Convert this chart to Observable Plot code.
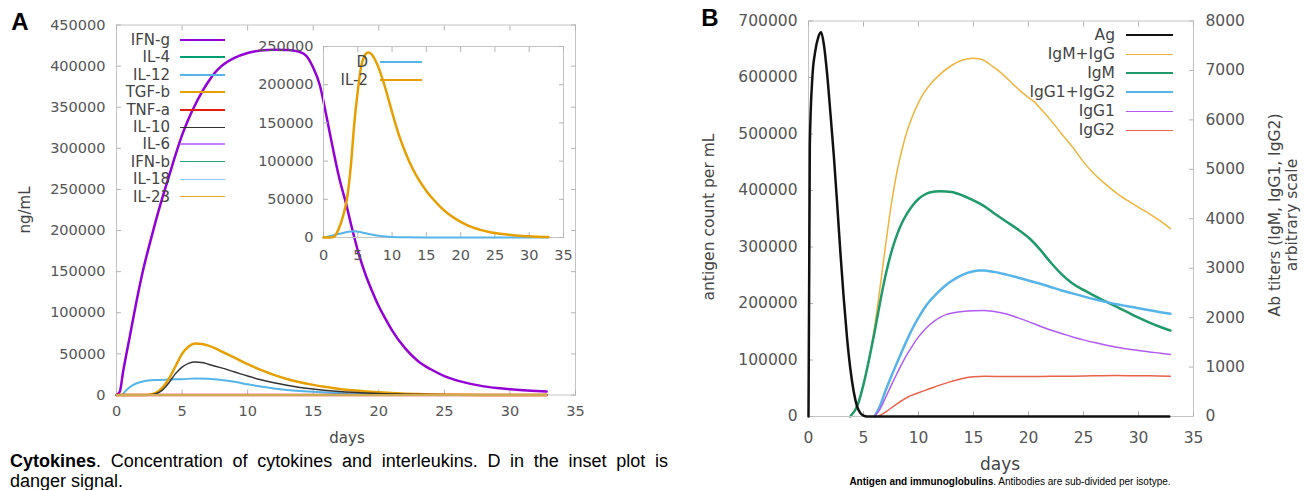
<!DOCTYPE html>
<html><head><meta charset="utf-8">
<script src="https://cdn.jsdelivr.net/npm/d3@7"></script>
<script src="https://cdn.jsdelivr.net/npm/@observablehq/plot@0.6"></script>
<style>
body{margin:0;background:#fff;}
#root{position:relative;width:1309px;height:490px;overflow:hidden;background:#fff;font-family:"DejaVu Sans",sans-serif;}
.pl{position:absolute;}
.pl svg{overflow:visible;}
.lg{position:absolute;display:flex;align-items:center;white-space:nowrap;color:#444;}
.lg .t{display:inline-block;text-align:right;}
.lg .s{display:inline-block;height:0;}
.ttl{position:absolute;color:#444;white-space:nowrap;}
.rot{transform:translate(-50%,-50%) rotate(-90deg);text-align:center;}
.ctr{transform:translate(-50%,-50%);}
</style></head><body><div id="root"></div><script>
// ---------- Panel A: cytokines (ng/mL) ----------
const IFN_g = [[0,0],[0.25,4000],[0.5,28000],[1,70000],[1.5,112000],[2,150000],[2.5,182000],[3,212000],[3.5,240000],[4,266000],[4.5,292000],[5,316000],[5.5,336000],[6,353000],[6.5,368000],[7,381000],[7.5,392000],[8,400000],[9,410000],[10,416000],[11,419000],[12,420000],[13,419500],[14,417000],[14.5,412000],[15,398000],[15.5,377000],[16,340000],[16.5,300000],[17,263000],[17.5,233000],[18,200000],[18.5,170000],[19,146000],[19.5,126000],[20,108000],[20.5,93000],[21,79000],[22,57000],[23,41000],[24,31000],[25,23000],[26,17500],[27,13500],[28,10500],[29,8500],[30,7000],[31,5800],[32,4900],[32.8,4300]];
const IL_4 = [[0,0],[32.8,0]];
const IL_12 = [[0,0],[0.4,0],[0.7,5000],[1,9500],[1.5,14000],[2,16500],[3,18300],[4,18800],[5,19300],[6,20000],[7,19700],[8,18300],[9,16000],[10,13000],[11,10300],[12,8000],[13,6200],[14,4900],[15,3900],[16,3000],[17,2300],[18,1700],[19,1200],[20,850],[22,400],[25,150],[28,50],[32.8,0]];
const TGF_b = [[0,0],[2,0],[2.5,300],[3,2500],[3.5,9000],[4,20000],[4.5,35000],[5,50000],[5.5,59000],[6,62500],[6.5,62000],[7,60000],[7.5,57000],[8,53000],[9,45500],[10,37500],[11,30500],[12,24500],[13,19500],[14,15500],[15,12300],[16,9600],[17,7400],[18,5700],[19,4300],[20,3200],[21,2300],[22,1600],[23,1100],[24,700],[26,300],[28,100],[32.8,0]];
const TNF_a = [[0,0],[32.8,0]];
const IL_10 = [[0,0],[2.5,0],[3,1500],[3.5,6000],[4,15000],[4.5,26000],[5,34000],[5.5,38500],[6,40000],[6.5,39500],[7,37500],[8,33000],[9,28000],[10,23000],[11,18500],[12,14800],[13,11800],[14,9200],[15,7200],[16,5600],[17,4300],[18,3300],[19,2500],[20,1800],[22,900],[25,300],[28,80],[32.8,0]];
const IL_6 = [[0,0],[32.8,0]];
const IFN_b = [[0,0],[32.8,0]];
const IL_18 = [[0,0],[32.8,0]];
const IL_23 = [[0,0],[32.8,0]];
// inset
const D_signal = [[0,0],[1,2000],[2,4300],[3,6300],[4,7800],[4.5,8100],[5,7600],[6,5800],[7,3800],[8,2300],[9,1400],[10,800],[12,300],[15,100],[20,0],[32.8,0]];
const IL_2 = [[0,0],[1,0],[1.5,800],[2,7000],[2.5,18000],[3,33000],[3.5,55000],[4,95000],[4.5,150000],[5,192000],[5.5,224000],[6,238000],[6.5,242000],[7,240000],[7.5,233000],[8,223000],[9,196000],[10,164000],[11,134000],[12,110000],[13,90000],[14,74000],[15,61000],[16,50000],[17,40500],[18,32500],[19,26000],[20,20500],[21,16000],[22,12500],[23,9700],[24,7500],[25,5800],[26,4500],[27,3500],[28,2700],[29,2000],[30,1500],[31,1100],[32,800],[32.8,600]];
// ---------- Panel B: antigen and immunoglobulins ----------
const Ag = [[0,0],[0.12,480000],[0.35,600000],[0.6,645000],[0.9,672000],[1.15,680000],[1.4,658000],[1.7,605000],[2.0,535000],[2.3,462000],[2.6,378000],[2.9,290000],[3.2,210000],[3.5,140000],[3.8,85000],[4.1,45000],[4.4,19000],[4.7,6500],[5.0,1500],[5.3,0],[32.8,0]];
const IgM_IgG = [[3.8,0],[4.5,250],[5,650],[5.5,1150],[6,1800],[6.5,2600],[7,3450],[7.5,4250],[8,4900],[8.5,5400],[9,5800],[9.5,6100],[10,6350],[10.5,6550],[11,6700],[12,6930],[13,7100],[14,7210],[15,7245],[15.5,7235],[16,7200],[16.5,7120],[17,7040],[17.5,6950],[18,6850],[18.5,6740],[19,6640],[19.5,6540],[20,6450],[20.5,6370],[21,6250],[22,6000],[23,5720],[24,5450],[25,5150],[26,4900],[27,4700],[28,4520],[29,4370],[30,4230],[31,4100],[32,3950],[32.9,3800]];
const IgM = [[3.8,0],[4.5,250],[5,650],[5.5,1150],[6,1700],[6.5,2300],[7,2850],[7.5,3300],[8,3650],[8.5,3920],[9,4120],[9.5,4280],[10,4400],[10.5,4480],[11,4530],[12,4555],[13,4540],[14,4470],[15,4370],[16,4250],[17,4090],[18,3940],[19,3790],[20,3620],[21,3390],[22,3120],[23,2880],[24,2690],[25,2560],[26,2440],[27,2330],[28,2220],[29,2110],[30,2000],[31,1900],[32,1810],[32.9,1740]];
const IgG1_IgG2 = [[6,0],[6.5,220],[7,520],[7.5,800],[8,1060],[8.5,1320],[9,1570],[9.5,1800],[10,2000],[10.5,2180],[11,2330],[11.5,2450],[12,2560],[12.5,2660],[13,2740],[13.5,2810],[14,2865],[14.5,2910],[15,2940],[15.5,2955],[16,2955],[16.5,2940],[17,2920],[17.5,2895],[18,2870],[19,2810],[20,2750],[21,2690],[22,2620],[23,2550],[24,2490],[25,2430],[26,2370],[27,2320],[28,2270],[29,2230],[30,2190],[31,2150],[32,2110],[32.9,2077]];
const IgG1 = [[6,0],[6.5,150],[7,380],[7.5,620],[8,850],[8.5,1070],[9,1270],[9.5,1450],[10,1610],[10.5,1740],[11,1850],[11.5,1940],[12,2010],[12.5,2060],[13,2090],[14,2125],[15,2140],[16,2143],[16.5,2135],[17,2120],[17.5,2100],[18,2075],[19,2000],[20,1920],[21,1830],[22,1750],[23,1680],[24,1610],[25,1550],[26,1495],[27,1445],[28,1400],[29,1365],[30,1335],[31,1305],[32,1280],[32.9,1254]];
const IgG2 = [[6.3,0],[7,90],[8,250],[9,390],[10,480],[11,560],[12,640],[13,710],[14,770],[15,805],[16,812],[18,810],[20,808],[22,812],[24,816],[26,822],[28,828],[30,822],[31,826],[32.9,815]];

// tick values
const dayTicks = [0,5,10,15,20,25,30,35];
const cytoTicks = [0,50000,100000,150000,200000,250000,300000,350000,400000,450000];
const insetTicks = [0,50000,100000,150000,200000,250000];
const agTicks = [0,100000,200000,300000,400000,500000,600000,700000];
const abTicks = [0,1000,2000,3000,4000,5000,6000,7000,8000];

// series styling
const seriesA = [
  {name:"IFN-g", data:IFN_g, color:"#9400d3", w:2.5},
  {name:"IL-4", data:IL_4, color:"#009e73", w:2},
  {name:"IL-12", data:IL_12, color:"#56b4e9", w:2},
  {name:"TGF-b", data:TGF_b, color:"#e69f00", w:2.5},
  {name:"TNF-a", data:TNF_a, color:"#e51e10", w:2.5},
  {name:"IL-10", data:IL_10, color:"#333333", w:1.5},
  {name:"IL-6", data:IL_6, color:"#c77dff", w:2},
  {name:"IFN-b", data:IFN_b, color:"#2aa37a", w:1.3},
  {name:"IL-18", data:IL_18, color:"#8ccaf0", w:1.3},
  {name:"IL-23", data:IL_23, color:"#e8a825", w:1.5}
];
const seriesInset = [
  {name:"D", data:D_signal, color:"#56b4e9", w:2},
  {name:"IL-2", data:IL_2, color:"#e69f00", w:2.5}
];
const seriesAg = [{name:"Ag", data:Ag, color:"#111111", w:2.5}];
const seriesAb = [
  {name:"IgM+IgG", data:IgM_IgG, color:"#efb43c", w:1.5},
  {name:"IgM", data:IgM, color:"#1f9a6a", w:2.5},
  {name:"IgG1+IgG2", data:IgG1_IgG2, color:"#56b4e9", w:2.5},
  {name:"IgG1", data:IgG1, color:"#b05cf0", w:1.5},
  {name:"IgG2", data:IgG2, color:"#e8624e", w:1.5}
];

const root = document.getElementById("root");
const tickStroke = "#b4b4b4";
const frameStroke = "#c4c4c4";
const fmt = d => String(d);

function lines(series){
  return series.map(s => Plot.line(s.data, {x: d => d[0], y: d => d[1], stroke: s.color, strokeWidth: s.w, curve: "monotone-x"}));
}
function tickMarks(xt, yt, sides){
  const m = [];
  if (sides.includes("b")) m.push(Plot.axisX(xt, {anchor:"bottom", tickSize:-5, fill:"none", stroke:tickStroke, label:null}));
  if (sides.includes("t")) m.push(Plot.axisX(xt, {anchor:"top", tickSize:-5, fill:"none", stroke:tickStroke, label:null}));
  if (sides.includes("l")) m.push(Plot.axisY(yt, {anchor:"left", tickSize:-5, fill:"none", stroke:tickStroke, label:null}));
  if (sides.includes("r")) m.push(Plot.axisY(yt, {anchor:"right", tickSize:-5, fill:"none", stroke:tickStroke, label:null}));
  return m;
}
function place(el, left, top){
  const w = document.createElement("div");
  w.className = "pl"; w.style.left = left + "px"; w.style.top = top + "px";
  w.appendChild(el); root.appendChild(w);
}
function legend(series, {right, lineGap, lineLen, y0, step, fontSize}){
  series.forEach((s, i) => {
    const d = document.createElement("div");
    d.className = "lg";
    d.style.left = (right - 140) + "px";
    d.style.top = (y0 + i*step - 10) + "px";
    d.style.height = "20px";
    d.style.fontSize = fontSize + "px";
    const t = document.createElement("span"); t.className = "t"; t.style.width = "140px"; t.textContent = s.name;
    const l = document.createElement("span"); l.className = "s"; l.style.width = lineLen + "px"; l.style.marginLeft = lineGap + "px";
    l.style.borderTop = s.w + "px solid " + s.color;
    d.appendChild(t); d.appendChild(l); root.appendChild(d);
  });
}
function text(str, cls, x, y, size, extra){
  const d = document.createElement("div");
  d.className = "ttl " + cls;
  d.style.left = x + "px"; d.style.top = y + "px"; d.style.fontSize = size + "px";
  d.innerHTML = str;
  if (extra) Object.assign(d.style, extra);
  root.appendChild(d);
}
const baseStyle = size => ({fontFamily:"DejaVu Sans", fontSize: size + "px", background:"transparent", overflow:"visible"});

// Panel A main
place(Plot.plot({
  width:600, height:430, marginLeft:116, marginRight:25, marginTop:24.5, marginBottom:35.5,
  x:{domain:[0,35]}, y:{domain:[0,450000]},
  style: baseStyle(14.5),
  marks:[
    Plot.frame({stroke:frameStroke}),
    ...tickMarks(dayTicks, cytoTicks, "btlr"),
    Plot.axisX(dayTicks, {anchor:"bottom", tickSize:0, tickPadding:11, fill:"#555", tickFormat:fmt, label:null}),
    Plot.axisY(cytoTicks, {anchor:"left", tickSize:0, tickPadding:11, fill:"#555", tickFormat:fmt, label:null}),
    ...lines(seriesA)
  ]
}), 0, 0);

// Panel A inset
place(Plot.plot({
  width:340, height:250, marginLeft:83, marginRight:17, marginTop:26, marginBottom:33,
  x:{domain:[0,35]}, y:{domain:[0,250000]},
  style: baseStyle(14.5),
  marks:[
    Plot.frame({stroke:frameStroke}),
    ...tickMarks(dayTicks, insetTicks, "btlr"),
    Plot.axisX(dayTicks, {anchor:"bottom", tickSize:0, tickPadding:12, fill:"#555", tickFormat:fmt, label:null}),
    Plot.axisY(insetTicks, {anchor:"left", tickSize:0, tickPadding:10, fill:"#555", tickFormat:fmt, label:null}),
    ...lines(seriesInset)
  ]
}), 240, 20);

// Panel B right axis (Ab titers) - drawn beneath
place(Plot.plot({
  width:629, height:450, marginLeft:128, marginRight:116, marginTop:20.5, marginBottom:34,
  x:{domain:[0,35], axis:null}, y:{domain:[0,8000]},
  style: baseStyle(15.5),
  marks:[
    ...tickMarks(dayTicks, abTicks, "r"),
    Plot.axisY(abTicks, {anchor:"right", tickSize:0, tickPadding:12, fill:"#555", tickFormat:fmt, label:null}),
    ...lines(seriesAb)
  ]
}), 680, 0);

// Panel B left axis (antigen)
place(Plot.plot({
  width:629, height:450, marginLeft:128, marginRight:116, marginTop:20.5, marginBottom:34,
  x:{domain:[0,35]}, y:{domain:[0,700000]},
  style: baseStyle(15.5),
  marks:[
    Plot.frame({stroke:frameStroke}),
    ...tickMarks(dayTicks, agTicks, "btl"),
    Plot.axisX(dayTicks, {anchor:"bottom", tickSize:0, tickPadding:15, fill:"#555", tickFormat:fmt, label:null}),
    Plot.axisY(agTicks, {anchor:"left", tickSize:0, tickPadding:11, fill:"#555", tickFormat:fmt, label:null}),
    ...lines(seriesAg)
  ]
}), 680, 0);

// legends
legend(seriesA, {right:170, lineGap:10, lineLen:45, y0:40, step:17.4, fontSize:15});
legend(seriesInset, {right:368, lineGap:12, lineLen:42, y0:62, step:18, fontSize:15});
legend(seriesAg.concat(seriesAb), {right:1115, lineGap:11, lineLen:47, y0:35, step:19, fontSize:15.5});

// axis titles
text("ng/mL", "rot", 25, 210, 15);
text("days", "ctr", 347, 438, 15);
text("antigen count per mL", "rot", 709, 217, 15.5);
text("days", "ctr", 1000, 464, 17);
text("Ab titers (IgM, IgG1, IgG2)<br>arbitrary scale", "rot", 1284, 215, 15.5, {lineHeight:"17px"});

// panel letters
text("A", "ctr", 20, 22, 24, {fontFamily:"Liberation Sans, Arial, sans-serif", fontWeight:"bold", color:"#000"});
text("B", "ctr", 710, 18, 24, {fontFamily:"Liberation Sans, Arial, sans-serif", fontWeight:"bold", color:"#000"});

// captions
text("<b>Cytokines</b>. Concentration of cytokines and interleukins. D in the inset plot is", "", 10, 450, 18,
  {fontFamily:"Liberation Sans, Arial, sans-serif", color:"#000", width:"658px", textAlign:"justify", textAlignLast:"justify", lineHeight:"22px", whiteSpace:"normal"});
text("danger signal.", "", 10, 470, 18, {fontFamily:"Liberation Sans, Arial, sans-serif", color:"#000", lineHeight:"22px"});
text("<b>Antigen and immunoglobulins</b>. Antibodies are sub-divided per isotype.", "ctr", 1010, 481, 10,
  {fontFamily:"Liberation Sans, Arial, sans-serif", color:"#000"});
</script></body></html>
